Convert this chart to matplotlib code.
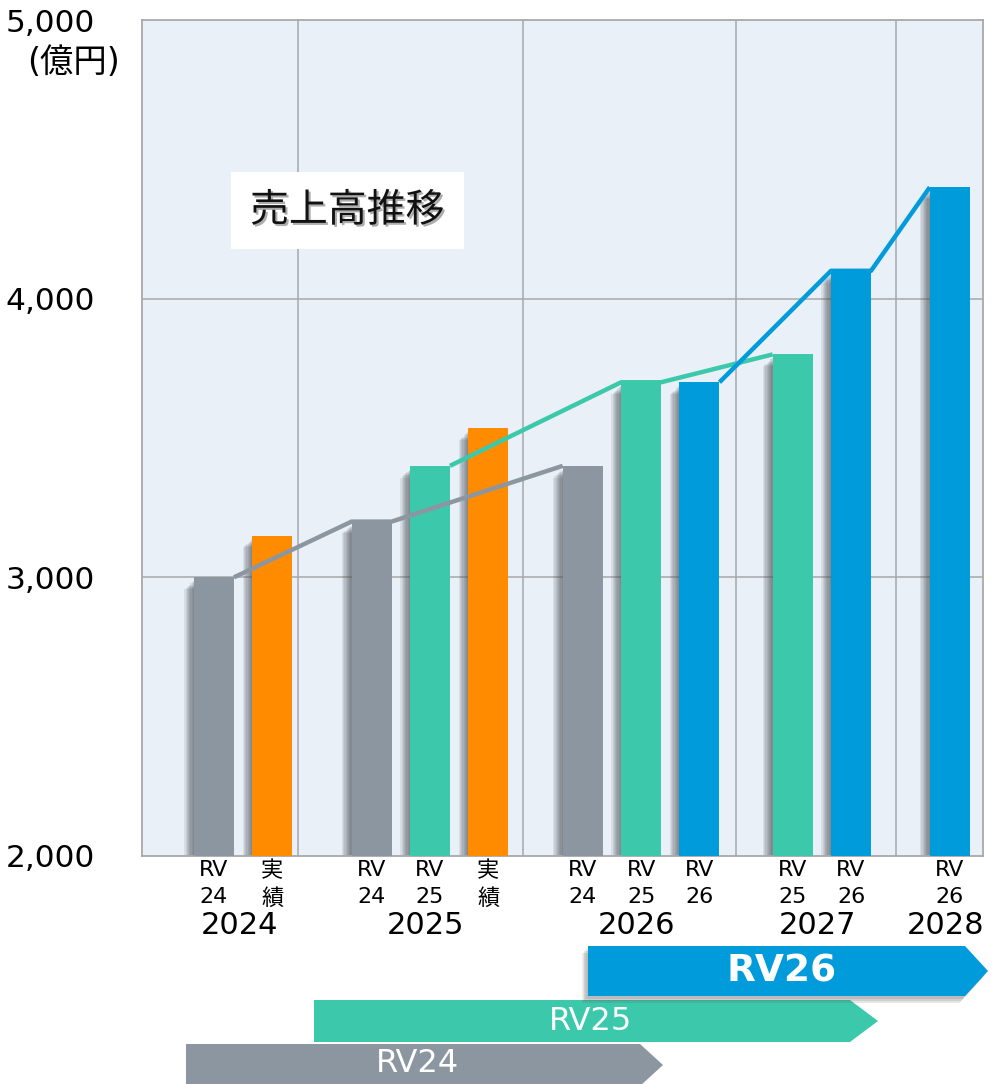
import matplotlib
matplotlib.use("Agg")
import matplotlib.pyplot as plt
from matplotlib.patches import Polygon, Rectangle
import matplotlib.patheffects as pe

plt.rcParams["font.family"] = ["DejaVu Sans", "Noto Sans CJK JP"]

# --- data (億円) ---
years = ["2024", "2025", "2026", "2027", "2028"]
plan_rv24 = [3000, 3200, 3400, None, None]
plan_rv25 = [None, 3400, 3700, 3800, None]
plan_rv26 = [None, None, 3700, 4100, 4400]
actual = [3150, 3535, None, None, None]

series_names = ["RV\n24", "RV\n25", "RV\n26", "実\n績"]
series_values = [plan_rv24, plan_rv25, plan_rv26, actual]
series_colors = ["#8C96A0", "#3CC8AA", "#009BDB", "#FF8C00"]
line_series = [0, 1, 2]          # plan revisions drawn as connecting lines

yticks = [2000, 3000, 4000, 5000]
ytick_labels = ["2,000", "3,000", "4,000", "5,000"]

arrow_labels = ["RV24", "RV25", "RV26"]
arrow_colors = ["#8C96A0", "#3CC8AA", "#009BDB"]

# --- layout (x axis in "bar width" units) ---
W, H = 993, 1084
group_centers = [2.53, 7.2, 12.48, 17.0, 20.2]
slot = 1.46
bar_w = 1.0
dividers = [3.9, 9.52, 14.85, 18.85]
bg = "#EAF0F7"
grid_c = "#A8A8A8"

fig = plt.figure(figsize=(W / 100, H / 100), dpi=100)
ax = fig.add_axes([142 / W, 1 - 856 / H, 841 / W, 836 / H])
ax.set_facecolor(bg)
ax.set_xlim(0, 21.03)
ax.set_ylim(2000, 5000)

for s in ax.spines.values():
    s.set_color(grid_c)
    s.set_linewidth(1.3)

for y in (3000, 4000):
    ax.axhline(y, color=grid_c, lw=1.1, zorder=1)
for x in dividers:
    ax.axvline(x, color=grid_c, lw=1.1, zorder=1)

ax.set_yticks(yticks)
ax.set_yticklabels(ytick_labels, fontsize=22.5)
ax.tick_params(axis="y", length=0, pad=34)
ax.set_xticks([])

# bar positions per series
positions = {k: [None] * len(years) for k in range(len(series_values))}
for g, gc in enumerate(group_centers):
    present = [k for k in range(len(series_values)) if series_values[k][g] is not None]
    n = len(present)
    for i, k in enumerate(present):
        positions[k][g] = gc + (i - (n - 1) / 2) * slot

shadow_steps = [(0.03 * i, 10 + 4 * i) for i in range(1, 9)]

for k, vals in enumerate(series_values):
    for g, v in enumerate(vals):
        if v is None:
            continue
        x = positions[k][g]
        # soft shadow on the left
        for dx, dy in shadow_steps:
            ax.add_patch(Rectangle((x - bar_w / 2 - dx, 2000), bar_w, v - 2000 - dy,
                                   color="#50555C", alpha=0.12, lw=0, zorder=2))
        ax.bar(x, v - 2000, bottom=2000, width=bar_w, color=series_colors[k], zorder=3)
        ax.annotate(series_names[k], (x, 2000), xytext=(0, -3), textcoords="offset points",
                    ha="center", va="top", fontsize=16, linespacing=1.45,
                    annotation_clip=False)

for g, gc in enumerate(group_centers):
    ax.annotate(years[g], (gc, 2000), xytext=(-3, -50), textcoords="offset points",
                ha="center", va="center", fontsize=22, annotation_clip=False)

# connecting lines: corner to corner across a plan revision
for k in line_series:
    pts = []
    for g, v in enumerate(series_values[k]):
        if v is None:
            continue
        x = positions[k][g]
        pts += [(x - bar_w / 2, v), (x + bar_w / 2, v)]
    pts = pts[1:-1]
    ax.plot([p[0] for p in pts], [p[1] for p in pts], color=series_colors[k],
            lw=3.2, solid_capstyle="butt", zorder=4)

# title box
ax.text(0.244, 0.772, "売上高推移", transform=ax.transAxes, ha="center", va="center",
        fontsize=28, color="#111111", zorder=6,
        bbox=dict(boxstyle="square,pad=0.5", fc="white", ec="none"),
        path_effects=[pe.withSimplePatchShadow(offset=(1.5, -1.5), shadow_rgbFace="#777777",
                                               alpha=0.6)])

fig.text(73 / W, 1 - 62 / H, "(億円)", ha="center", va="center", fontsize=24)


# plan-revision arrows below the chart
def px(x, y):
    return (x / W, 1 - y / H)


def arrow(left, top, bottom, body_end, tip, color, shadow=False):
    mid = (top + bottom) / 2
    pts = [px(left, top), px(body_end, top), px(tip, mid), px(body_end, bottom), px(left, bottom)]
    if shadow:
        for d in (3, 5, 7):
            sp = [(a - d / W * 0.8, b - d / H) for a, b in pts]
            fig.add_artist(Polygon(sp, closed=True, transform=fig.transFigure,
                                   fc="#555555", ec="none", alpha=0.15))
    fig.add_artist(Polygon(pts, closed=True, transform=fig.transFigure, fc=color, ec="none"))


arrow(186, 1044, 1086, 640, 663, arrow_colors[0])
arrow(314, 1000, 1042, 850, 878, arrow_colors[1])
arrow(588, 946, 996, 965, 988, arrow_colors[2], shadow=True)

fig.text(*px(417, 1064), arrow_labels[0], ha="center", va="center", fontsize=23, color="white")
fig.text(*px(590, 1022), arrow_labels[1], ha="center", va="center", fontsize=23, color="white")
fig.text(*px(782, 971), arrow_labels[2], ha="center", va="center", fontsize=27,
         color="white", fontweight="bold")

fig.savefig("out.png", dpi=100)
